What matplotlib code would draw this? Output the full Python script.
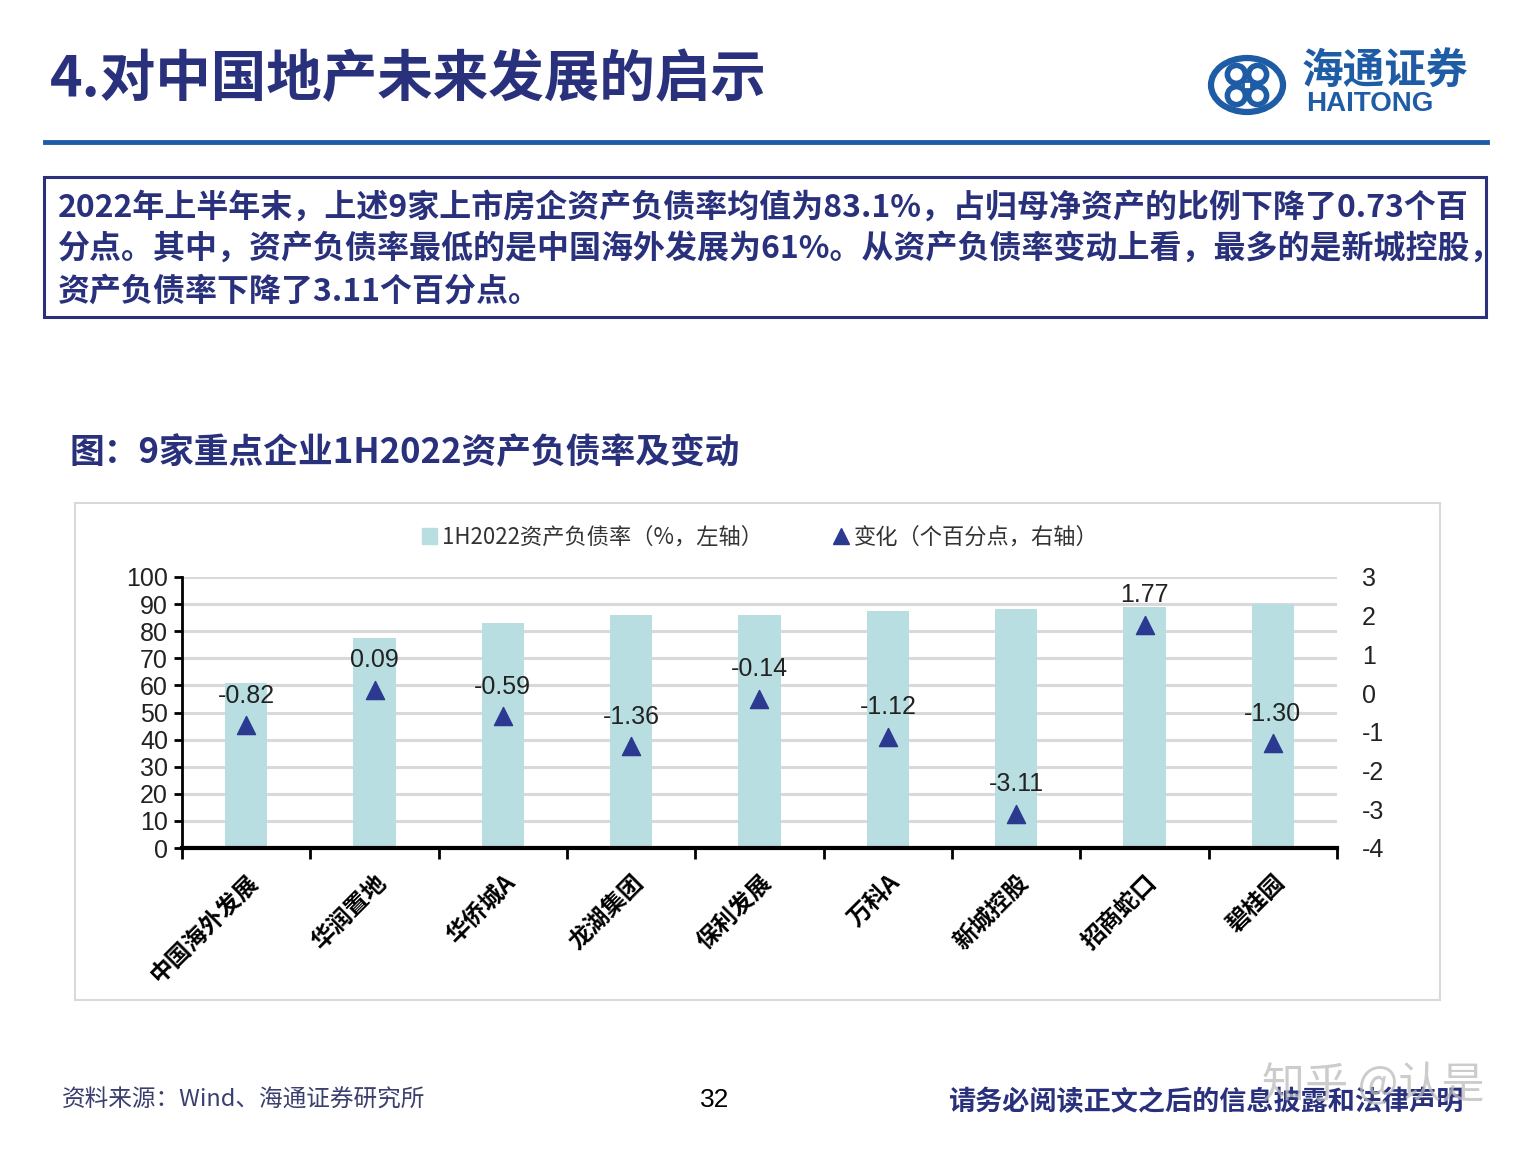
import matplotlib.pyplot as plt
import matplotlib.patches as mpatches
from matplotlib.lines import Line2D
import numpy as np

plt.rcParams['font.family'] = ['Noto Sans CJK SC', 'DejaVu Sans']
plt.rcParams['axes.unicode_minus'] = False

W, H = 1538, 1153

# data
companies = ['中国海外发展', '华润置地', '华侨城A', '龙湖集团', '保利发展',
             '万科A', '新城控股', '招商蛇口', '碧桂园']
debt_ratio = [61.0, 77.5, 83.0, 86.0, 86.0, 87.5, 88.3, 89.0, 90.0]
change = [-0.82, 0.09, -0.59, -1.36, -0.14, -1.12, -3.11, 1.77, -1.30]
left_ticks = list(range(0, 101, 10))
right_ticks = list(range(-4, 4))

title = '4.对中国地产未来发展的启示'
summary = ['2022年上半年末，上述9家上市房企资产负债率均值为83.1%，占归母净资产的比例下降了0.73个百',
           '分点。其中，资产负债率最低的是中国海外发展为61%。从资产负债率变动上看，最多的是新城控股，',
           '资产负债率下降了3.11个百分点。']
fig_title = '图：9家重点企业1H2022资产负债率及变动'
legend_bar = '1H2022资产负债率（%，左轴）'
legend_tri = '变化（个百分点，右轴）'
source = '资料来源：Wind、海通证券研究所'
page = '32'
disclaimer = '请务必阅读正文之后的信息披露和法律声明'

navy = '#29307C'
logo_blue = '#1F5CA6'
bar_color = '#B8DEE2'
tri_color = '#2B3990'
latin = ['Liberation Sans Narrow', 'Liberation Sans', 'DejaVu Sans']


def fx(x):
    return x / W


def fy(y):
    return 1 - y / H


fig = plt.figure(figsize=(W / 100, H / 100), dpi=100)
fig.patch.set_facecolor('white')

### header
fig.text(fx(50), fy(80), title, fontsize=40, fontweight='bold', color=navy,
         va='center', ha='left')
fig.add_artist(Line2D([fx(45), fx(1487)], [fy(142), fy(142)], color=logo_blue,
                      lw=3.5, transform=fig.transFigure))

# logo emblem, rough
cx, cy, r = 1247, 85, 36
fig.add_artist(mpatches.Circle((fx(cx), fy(cy)), r / W, transform=fig.transFigure,
                               fill=False, ec=logo_blue, lw=4.5))
for ang in [45, 135, 225, 315]:
    a = np.deg2rad(ang)
    px_, py_ = cx + 15 * np.cos(a), cy - 15 * np.sin(a)
    fig.add_artist(mpatches.Ellipse((fx(px_), fy(py_)), 18 / W, 18 / H,
                                    transform=fig.transFigure, fill=False,
                                    ec=logo_blue, lw=4))
fig.add_artist(mpatches.Rectangle((fx(cx - 4), fy(cy + 4)), 8 / W, 8 / H,
                                  transform=fig.transFigure, fc='white', ec=logo_blue, lw=2))
fig.text(fx(1385), fy(72), '海通证券', fontsize=30, fontweight='bold', color=logo_blue,
         ha='center', va='center')
fig.text(fx(1370), fy(104), 'HAITONG', fontsize=20, fontweight='bold', color=logo_blue,
         ha='center', va='center', family=['Liberation Sans', 'DejaVu Sans'])

### summary box
fig.add_artist(mpatches.Rectangle((fx(44), fy(317)), (1486 - 44) / W, (317 - 177) / H,
                                  transform=fig.transFigure, fill=False, ec=navy, lw=2.2))
for i, line in enumerate(summary):
    fig.text(fx(58), fy(208 + 42 * i), line, fontsize=23, fontweight='bold',
             color=navy, va='center', ha='left')

fig.text(fx(70), fy(453), fig_title, fontsize=25, fontweight='bold', color=navy,
         va='center', ha='left')

# chart frame
fig.add_artist(mpatches.Rectangle((fx(75), fy(1000)), (1440 - 75) / W, (1000 - 503) / H,
                                  transform=fig.transFigure, fill=False, ec='#D9D9D9', lw=1.5))

### chart
ax = fig.add_axes([fx(182), fy(848), (1337 - 182) / W, (848 - 577) / H])
x = np.arange(len(companies))
bars = ax.bar(x, debt_ratio, width=0.33, color=bar_color, zorder=2)
ax.set_xlim(-0.5, len(companies) - 0.5)
ax.set_ylim(0, 100)
ax.set_yticks(left_ticks)
ax.yaxis.grid(True, color='#D9D9D9', lw=2.2, zorder=0)
ax.set_axisbelow(True)
for s in ['top', 'right']:
    ax.spines[s].set_visible(False)
ax.spines['left'].set_linewidth(2)
ax.spines['bottom'].set_linewidth(3)
ax.tick_params(axis='y', direction='out', length=6, width=2, labelsize=18, pad=4,
               labelcolor='#222222')
for lab in ax.get_yticklabels():
    lab.set_family(latin)
ax.set_xticks(np.arange(-0.5, len(companies), 1.0))
ax.set_xticklabels([])
ax.tick_params(axis='x', direction='out', length=8, width=2)
ax.set_xticks(x, minor=True)
ax.set_xticklabels(companies, minor=True, rotation=45, ha='right', va='top',
                   rotation_mode='anchor', fontsize=17, fontweight='bold')
ax.tick_params(axis='x', which='minor', length=0, pad=16)

ax2 = ax.twinx()
ax2.set_ylim(-4, 3)
ax2.set_yticks(right_ticks)
for s in ['top', 'right', 'left', 'bottom']:
    ax2.spines[s].set_visible(False)
ax2.tick_params(axis='y', length=0, labelsize=18, pad=18, labelcolor='#222222')
for lab in ax2.get_yticklabels():
    lab.set_family(latin)
tri = ax2.scatter(x, change, marker='^', s=170, color=tri_color, zorder=4)
for xi, v in zip(x, change):
    ax2.annotate(f'{v:.2f}', (xi, v), xytext=(0, 21), textcoords='offset points',
                 ha='center', va='center', fontsize=18, family=latin, color='#222222')

leg_handles = [mpatches.Patch(color=bar_color),
               Line2D([], [], marker='^', ls='', color=tri_color, markersize=12)]
fig.legend(leg_handles, [legend_bar, legend_tri], loc='center',
           bbox_to_anchor=(fx(760), fy(537)), ncol=2, frameon=False, fontsize=16,
           handlelength=0.7, handletextpad=0.2, columnspacing=3.2,
           labelcolor='#333333')

### footer
fig.text(fx(62), fy(1100), source, fontsize=17, color='#3A3F6E', va='center', ha='left')
fig.text(fx(715), fy(1100), page, fontsize=19, color='black', va='center', ha='center',
         family=latin)
fig.text(fx(948), fy(1102), disclaimer, fontsize=19.5, fontweight='bold', color=navy,
         va='center', ha='left')
fig.text(fx(1262), fy(1086), '知乎 @认是', fontsize=31, color='#BBBBBB', alpha=0.75,
         va='center', ha='left')

fig.savefig('out.png', dpi=100, facecolor='white')
